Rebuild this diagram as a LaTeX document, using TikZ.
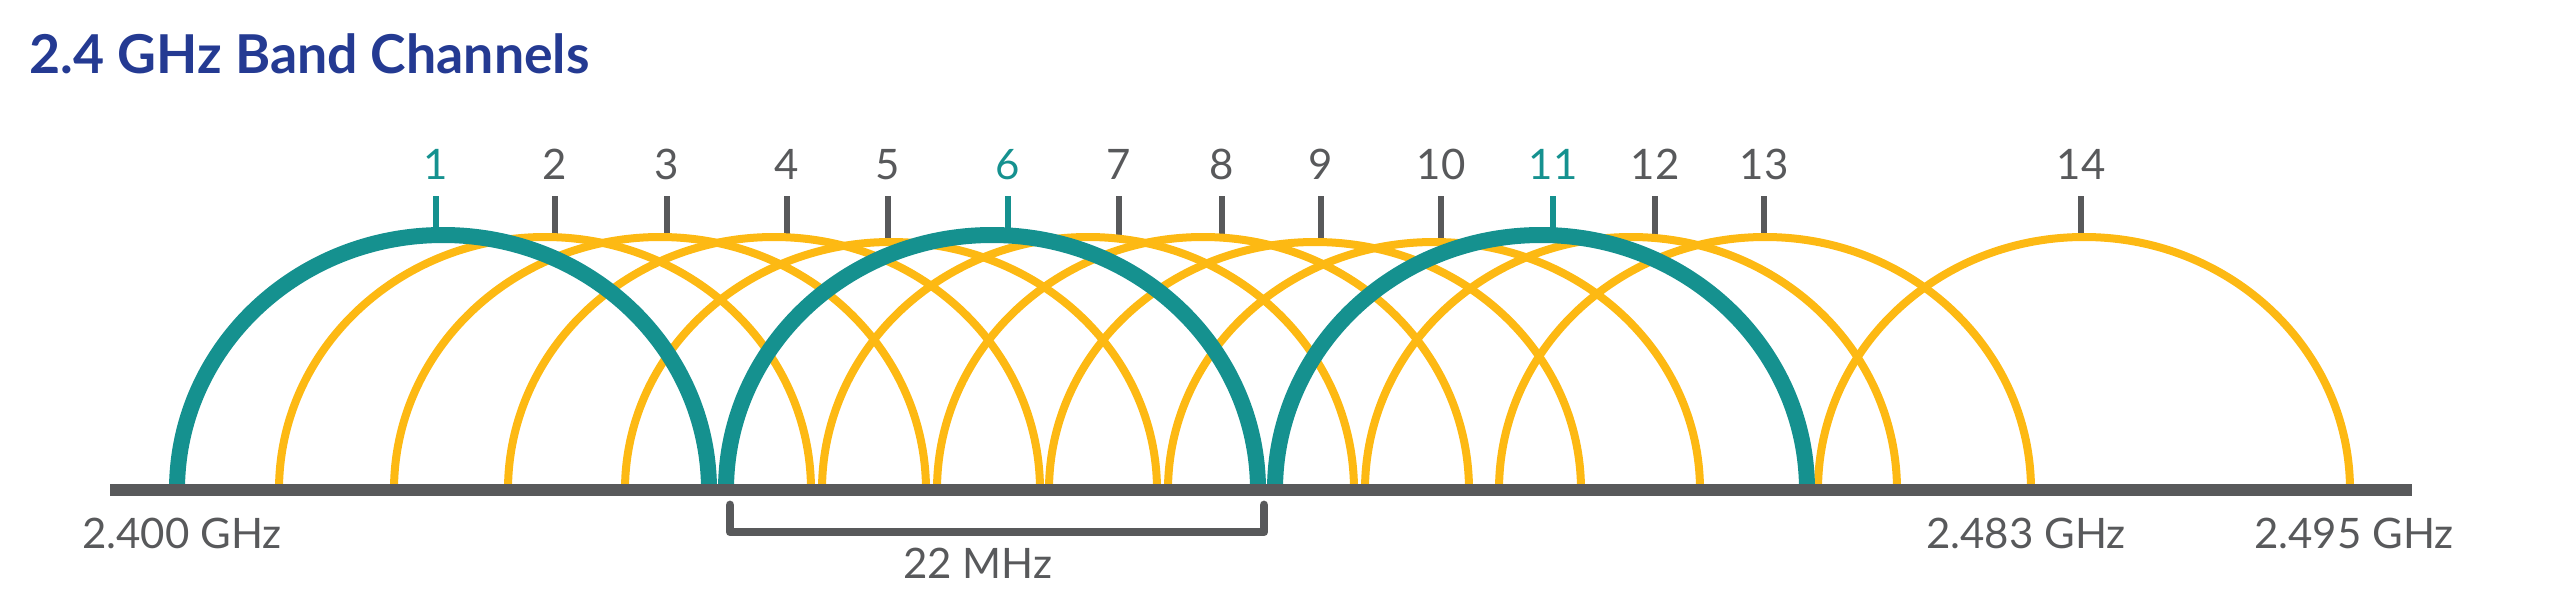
\documentclass[tikz,border=0pt]{standalone}
\usepackage{fontspec}
\setmainfont{Lato}
\definecolor{teal1}{HTML}{15918F}
\definecolor{yel1}{HTML}{FDB913}
\definecolor{gray1}{HTML}{58595B}
\definecolor{blue1}{HTML}{243A92}
\begin{document}
\begin{tikzpicture}[x=0.25pt,y=0.25pt,
  titletext/.style={text=blue1,font=\fontsize{13.4pt}{16pt}\selectfont\bfseries,inner sep=0pt},
  num/.style={text=gray1,font=\fontsize{10.5pt}{12pt}\selectfont,inner sep=0pt},
  tnum/.style={num,text=teal1},
  freq/.style={text=gray1,font=\fontsize{10.5pt}{12pt}\selectfont,inner sep=0pt},
  tickg/.style={draw=gray1,line width=1.3pt},
  tickt/.style={draw=teal1,line width=1.3pt},
  yarc/.style={draw=yel1,line width=2pt},
  tarc/.style={draw=teal1,line width=4pt},
  axis/.style={draw=gray1,line width=3pt},
  brace/.style={draw=gray1,line width=2.2pt,line join=round,line cap=round}]
\useasboundingbox (0,0) rectangle (2560,602);
\node[titletext,anchor=base west] (title) at (29,529) {2.4 GHz Band Channels};
\foreach \n/\t in {2/555,3/667,4/787,5/888,7/1119,8/1222,9/1321,10/1441,12/1655,13/1764,14/2081}{
  \draw[tickg] (\t,406) coordinate (ta\n) -- (\t,362) coordinate (tb\n);
  \node[num,anchor=base] (n\n) at (\t,423) {\n};
}
\foreach \n/\t in {1/436,6/1008,11/1553}{
  \draw[tickt] (\t,406) coordinate (ta\n) -- (\t,362) coordinate (tb\n);
  \node[tnum,anchor=base] (n\n) at (\t,423) {\n};
}
\foreach \n/\L/\r in {2/279/63.25pt,3/394/63.25pt,4/508/63.25pt,5/625/62pt,7/822/63.25pt,8/937/63.25pt,9/1049/62pt,10/1168/62pt,12/1365/63.25pt,13/1499/63.25pt,14/1818/63.25pt}{
  \draw[yarc] (\L,112) coordinate (s\n) arc[start angle=180,end angle=0,x radius=66.5pt,y radius=\r];
}
\foreach \n/\L in {1/177,6/726,11/1275}{
  \draw[tarc] (\L,112) coordinate (s\n) arc[start angle=180,end angle=0,x radius=66.5pt,y radius=63.75pt];
}
\coordinate (axl) at (110,112);
\coordinate (axr) at (2412,112);
\draw[axis] (axl) -- (axr);
\coordinate (bl) at (730,97);
\coordinate (br) at (1264,97);
\draw[brace] (bl) -- (730,70) -- (1264,70) -- (br);
\node[freq,anchor=base] (mhz) at (978,24) {22 MHz};
\node[freq,anchor=base] (f1) at (182,54) {2.400 GHz};
\node[freq,anchor=base] (f2) at (2026,54) {2.483 GHz};
\node[freq,anchor=base] (f3) at (2354,54) {2.495 GHz};
\end{tikzpicture}
\end{document}
